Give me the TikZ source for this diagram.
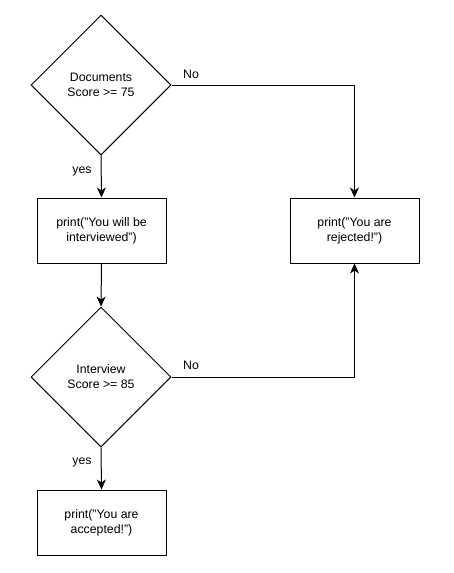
\documentclass[tikz,border=0pt]{standalone}
\usepackage{fontspec}
\setmainfont{Liberation Sans}
\usetikzlibrary{shapes.geometric,arrows.meta}
\begin{document}
\begin{tikzpicture}[x=1pt,y=-1pt,
  every node/.style={font=\fontsize{12.3}{15}\selectfont},
  dec/.style={draw,line width=1pt,shape=diamond,minimum width=140pt,minimum height=140pt,inner sep=0pt,align=center},
  proc/.style={draw,line width=1pt,minimum width=129pt,minimum height=65pt,inner sep=0pt,align=center},
  conn/.style={line width=1pt,-{Stealth[length=10pt,width=9pt,inset=3pt]}},
  lbl/.style={inner sep=0pt}]
\useasboundingbox (0,0) rectangle (453,573);
\node[dec] (d1) at (101,85) {Documents\\Score >= 75};
\node[proc] (p1) at (101.5,230.5) {print("You will be\\interviewed")};
\node[proc] (rej) at (354.5,230.5) {print("You are\\rejected!")};
\node[dec] (d2) at (101,377) {Interview\\Score >= 85};
\node[proc] (acc) at (101.5,522.5) {print("You are\\accepted!")};
\draw[conn] (d1.south) -- (p1.north);
\draw[conn] (p1.south) -- (d2.north);
\draw[conn] (d2.south) -- (acc.north);
\draw[conn] (d1.east) -| (rej.north);
\draw[conn] (d2.east) -| (rej.south);
\node[lbl] (n1) at (191,74) {No};
\node[lbl] (y1) at (82,171) {yes};
\node[lbl] (n2) at (191,365) {No};
\node[lbl] (y2) at (82,462) {yes};
\end{tikzpicture}
\end{document}
